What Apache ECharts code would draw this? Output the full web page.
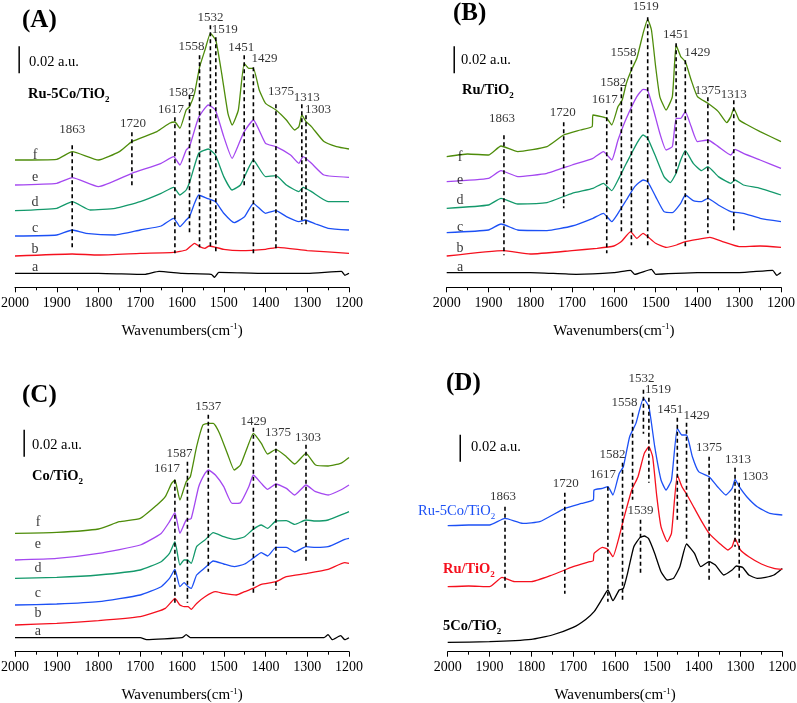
<!DOCTYPE html>
<html><head><meta charset="utf-8">
<script src="https://cdn.jsdelivr.net/npm/echarts@6/dist/echarts.min.js"></script>
<style>html,body{margin:0;padding:0;background:#fff}#c{width:797px;height:703px}</style>
</head><body><div id="c"></div><script>
// ---------- DATA (heights above each panel's baseline, same unit for all panels) ----------
// Panel A: Ru-5Co/TiO2
const A_a = [[2000,14],[1800,14],[1690,13],[1655,16],[1600,14],[1530,13],[1522,10],[1512,15],[1400,14],[1300,14],[1218,16],[1210,12],[1200,14]];
const A_b = [[2000,31.3],[1863,33.3],[1800,32.3],[1700,34],[1620,35],[1590,37.3],[1570,44],[1558,40.7],[1545,39],[1535,41.3],[1500,38],[1460,36.7],[1400,38],[1370,40],[1300,36.7],[1200,34]];
const A_c = [[2000,51.3],[1900,52.3],[1863,57.3],[1830,54],[1760,52.3],[1700,57.3],[1650,61.3],[1620,69],[1605,60.7],[1590,67.3],[1582,70.7],[1570,84],[1560,92.3],[1540,89],[1520,85.7],[1500,74],[1475,64.7],[1450,70.7],[1429,84],[1400,74],[1375,76.7],[1350,70.7],[1320,65.7],[1305,67.3],[1280,63.3],[1250,59],[1200,57.3]];
const A_d = [[2000,76.7],[1900,79],[1863,85.7],[1820,77.3],[1760,79],[1700,85.7],[1650,94],[1620,100],[1605,92.3],[1590,97.3],[1580,107.3],[1560,134],[1537,138.3],[1520,132.3],[1500,110.7],[1480,97.3],[1460,102.3],[1429,127.3],[1400,110.7],[1375,111.7],[1350,102.3],[1320,95.7],[1310,100],[1290,95.7],[1250,85.7],[1200,85.7]];
const A_e = [[2000,102.3],[1900,104],[1863,109.7],[1800,100.7],[1720,114],[1650,124],[1620,130.7],[1605,122.3],[1590,137.3],[1582,140.7],[1560,170],[1537,182.3],[1520,177.3],[1500,150.7],[1480,129],[1460,147.3],[1451,155.7],[1429,167.3],[1400,144],[1375,140.7],[1340,132.3],[1320,124],[1310,130.7],[1290,124],[1260,112.3],[1200,110]];
const A_f = [[2000,127.3],[1900,128],[1863,135.7],[1800,127.3],[1750,135.7],[1720,145.7],[1660,155.7],[1630,164],[1617,165.3],[1605,159],[1590,177.3],[1582,180.7],[1570,194],[1558,220],[1545,237.3],[1532,254],[1519,247],[1505,214],[1490,174],[1480,162.3],[1465,177.3],[1451,224],[1440,219],[1429,219],[1415,197.3],[1400,184],[1375,177.3],[1350,167.3],[1330,157.3],[1320,160.7],[1313,172.3],[1303,165.7],[1290,160.7],[1260,145.7],[1230,140.7],[1200,138.3]];
// Panel B: Ru/TiO2
const B_a = [[2000,14.7],[1800,14.7],[1690,13],[1600,14.7],[1560,17],[1550,13],[1510,18],[1500,13],[1400,14.7],[1300,14.7],[1220,17],[1210,12],[1200,14.7]];
const B_b = [[2000,31.3],[1863,36.7],[1800,33.3],[1700,36.7],[1640,39],[1600,41.3],[1582,45.7],[1560,55.7],[1545,49],[1530,54],[1519,50.7],[1500,44],[1475,40],[1450,42.3],[1429,45.7],[1400,48],[1370,50],[1340,45.7],[1300,40.7],[1250,41.3],[1200,40]];
const B_c = [[2000,54.7],[1900,57.3],[1870,63.3],[1830,57.3],[1760,56.7],[1700,61.3],[1650,69],[1625,74],[1605,65.7],[1590,74],[1570,87.3],[1550,100.7],[1530,107.3],[1519,105.7],[1500,90.7],[1480,75.7],[1460,74.7],[1440,84],[1429,92.3],[1410,86.7],[1390,85.7],[1375,89],[1350,82.3],[1320,75.7],[1290,74],[1250,69],[1200,65.7]];
const B_d = [[2000,79],[1900,82.3],[1870,89],[1830,83.3],[1760,84.7],[1700,94],[1650,99],[1625,104],[1605,96.7],[1590,107.3],[1570,124],[1545,144],[1530,152.3],[1519,149],[1500,130.7],[1480,110.7],[1465,104.7],[1451,114],[1440,127.3],[1429,136.7],[1410,124],[1390,116.7],[1375,120.7],[1350,110.7],[1320,104],[1310,107.3],[1290,102.3],[1250,99],[1200,92.3]];
const B_e = [[2000,105.7],[1900,109],[1870,116.7],[1830,110.7],[1760,114],[1700,122.3],[1650,129],[1625,135.7],[1605,127.3],[1590,147.3],[1570,169],[1545,190.7],[1530,198],[1519,196.7],[1505,177.3],[1490,154],[1475,137.3],[1460,140.7],[1451,169],[1440,169],[1429,175.7],[1415,160.7],[1400,145.7],[1375,147.3],[1350,140.7],[1320,132.3],[1310,138],[1290,134],[1250,127.3],[1200,119]];
const B_f = [[2000,130.7],[1950,133.3],[1900,132.3],[1870,141.3],[1830,135.7],[1760,140.7],[1720,152.3],[1680,157.3],[1652,160.7],[1650,172.3],[1630,170.7],[1617,169],[1605,162.3],[1590,180.7],[1580,187.3],[1570,204],[1558,217.3],[1545,229],[1530,254],[1519,268],[1510,257.3],[1500,220.7],[1490,190.7],[1475,177.3],[1460,190.7],[1451,242.3],[1440,230.7],[1429,225.7],[1415,207.3],[1400,190.7],[1375,184],[1350,175.7],[1330,164.7],[1320,170.7],[1313,179],[1300,167.3],[1280,162.3],[1250,155.7],[1200,145.7]];
// Panel C: Co/TiO2
const C_a = [[2000,14],[1700,14],[1685,12],[1600,14],[1590,17],[1580,14],[1400,14],[1260,14],[1250,17],[1240,12],[1220,16],[1210,12],[1200,14]];
const C_b = [[2000,26.7],[1900,28.3],[1800,31],[1700,35],[1660,40],[1640,43.3],[1625,50],[1617,53.3],[1605,46.7],[1595,45],[1585,45],[1578,42.3],[1565,48.3],[1545,55],[1520,60],[1500,58.3],[1470,56.7],[1450,60],[1430,63.3],[1410,67.3],[1375,70],[1350,75],[1300,78.3],[1250,82.3],[1210,89],[1200,88.3]];
const C_c = [[2000,46.7],[1900,47.7],[1800,50],[1700,56.7],[1650,65],[1630,73.3],[1617,82.3],[1605,65],[1595,69],[1587,65.7],[1578,63.3],[1565,76.7],[1545,84],[1525,90.7],[1500,87.7],[1475,85],[1450,87.7],[1430,93.3],[1410,99],[1395,95.7],[1375,104.3],[1350,104.3],[1330,99.7],[1303,105],[1280,104.3],[1250,105],[1210,112.3],[1200,113.3]];
const C_d = [[2000,73.3],[1900,74.3],[1800,76.7],[1700,81.7],[1650,90],[1630,98.3],[1617,110],[1605,86.7],[1595,91.7],[1587,91.7],[1578,88.3],[1565,105],[1545,111.7],[1525,119],[1500,115],[1475,112.3],[1450,115],[1430,122.3],[1410,126.7],[1395,123.3],[1375,130.7],[1350,131],[1330,127.3],[1303,131.7],[1280,130.7],[1250,131.7],[1210,138.3],[1200,140]];
const C_e = [[2000,91.7],[1900,93.3],[1800,98.3],[1700,106.7],[1650,118.3],[1630,130],[1617,139],[1605,118.3],[1590,131.7],[1578,133.3],[1560,165],[1545,178.3],[1537,181.7],[1520,176.7],[1500,165],[1480,148.3],[1460,149],[1440,165],[1429,176.7],[1410,168.3],[1395,162.3],[1375,167.7],[1350,163.3],[1330,156.7],[1303,166.7],[1280,160],[1250,156.7],[1220,161.7],[1200,166.7]];
const C_f = [[2000,118.3],[1900,119.3],[1800,122.7],[1750,130],[1700,133.3],[1660,146.7],[1640,155],[1625,168.3],[1617,171.7],[1605,151.7],[1590,170],[1580,175],[1565,205],[1550,226.7],[1537,228.3],[1525,228.3],[1510,218.3],[1490,196.7],[1475,181.7],[1460,186.7],[1440,208.3],[1429,218.3],[1410,208.3],[1395,197.7],[1375,202.3],[1350,195],[1330,187.7],[1303,198.3],[1280,186.7],[1250,185.7],[1220,188.3],[1200,194.3]];
// Panel D: comparison
const D_co = [[2000,9.3],[1900,10],[1800,12.3],[1750,16.7],[1700,24.3],[1670,32.3],[1650,40],[1630,53.3],[1617,61.7],[1605,51],[1590,61.7],[1580,63.3],[1570,78.3],[1555,105],[1540,114.3],[1530,115.7],[1520,113.3],[1505,98.3],[1490,80],[1475,71.7],[1460,73.3],[1445,85],[1429,107.7],[1410,98.3],[1395,85],[1375,90],[1360,86.7],[1340,76.7],[1320,81.7],[1310,85.7],[1295,84.3],[1280,76.7],[1260,73.3],[1240,74.3],[1220,76.7],[1200,83.3]];
const D_ru = [[2000,65],[1950,65.7],[1900,65],[1870,74.3],[1840,70],[1800,70],[1750,76.7],[1700,85],[1660,90],[1652,91],[1650,98.3],[1630,104.3],[1617,102.3],[1605,95],[1590,115],[1580,131.7],[1560,161.7],[1545,175],[1530,198.3],[1519,205],[1510,195],[1500,155],[1490,125],[1475,110],[1465,118.3],[1451,176.7],[1440,165],[1429,157.7],[1410,143.3],[1390,128.3],[1375,118.3],[1350,108.3],[1330,101.7],[1320,105],[1313,113.3],[1300,101.7],[1280,95],[1250,87.7],[1220,83.3],[1200,82.3]];
const D_rc = [[2000,126],[1950,126.7],[1900,126.7],[1863,133.3],[1820,128.3],[1780,130],[1720,143.3],[1680,148.3],[1652,151.7],[1650,161.7],[1630,163.3],[1617,165],[1605,156.7],[1590,178.3],[1580,185],[1565,215],[1550,228.3],[1532,253.3],[1519,245],[1505,205],[1490,171.7],[1478,161.7],[1465,171.7],[1451,223.3],[1440,216.7],[1429,216.7],[1415,195],[1400,180],[1375,175],[1355,165],[1335,156.7],[1320,163.3],[1313,172.3],[1303,165],[1285,155],[1260,145],[1230,138.3],[1200,136.7]];

// Peak assignments (cm-1) per panel
const peaksA = [1863,1720,1617,1582,1558,1532,1519,1451,1429,1375,1313,1303];
const peaksB = [1863,1720,1617,1582,1558,1519,1451,1429,1375,1313];
const peaksC = [1617,1587,1537,1429,1375,1303];
const peaksD = [1863,1720,1617,1582,1558,1532,1519,1539,1451,1429,1375,1313,1303];
const curveLetters = ['a','b','c','d','e','f'];
const xTicks = [2000,1900,1800,1700,1600,1500,1400,1300,1200];
const SCALE_BAR = 27; // 0.02 a.u. in height units

// ---------- LAYOUT (annotation placement: [lineTop, lineBottom, labelHeight, labelDx px]) ----------
const peakLayoutA = [[142,39,158,0],[155,100,164,1],[170,34,178,-4],[192,54,195,-8],[232,40,241,-8],[262,40,270,0],[250,34,258,9],[232,100,240,-3],[220,32,229,11],[183,39,196,5],[183,63,190,5],[172,63,178,12]];
const peakLayoutB = [[152,32,169,-2],[165,79,175,-1],[177,34,188,-2],[200,54,205,-8],[227,42,235,-8],[270,39,281,-2],[244,114,253,0],[227,39,235,12],[190,54,197,0],[187,54,193,0]];
const peakLayoutC = [[172,47,183,-8],[190,49,198,-8],[237,80,245,0],[224,57,230,0],[210,62,219,2],[207,90,214,2]];
const peakLayoutD = [[145,63,155,-2],[159,58,168,1],[165,50,177,-5],[189,50,197,-10],[239,152,249,-8],[262,218,273,-2],[254,169,262,9],[132,79,141,0],[234,130,242,-7],[229,112,236,10],[195,69,204,0],[184,105,192,3],[169,72,175,16]];

const COL = {a:'#000000', b:'#f5101e', c:'#1c50f5', d:'#13996b', e:'#a447f0', f:'#4e8c0a'};
const FONT = "'Liberation Serif','Times New Roman',serif";

const panels = [
  {grid:{left:15, right:448, top:0, height:287.3}, ymax:287.3,
   curves:[A_a,A_b,A_c,A_d,A_e,A_f].map((d,i)=>({d, c:COL[curveLetters[i]]})),
   peaks:peaksA, layout:peakLayoutA,
   letters:{wn:1952, h:[20,38,59,85,110,132]}, bar:{wn:1990, h0:214}},
  {grid:{left:446.7, right:16, top:0, height:287.3}, ymax:287.3,
   curves:[B_a,B_b,B_c,B_d,B_e,B_f].map((d,i)=>({d, c:COL[curveLetters[i]]})),
   peaks:peaksB, layout:peakLayoutB,
   letters:{wn:1968, h:[20,39,60,87,107,130]}, bar:{wn:1982, h0:214}},
  {grid:{left:15, right:448, top:351.7, height:300}, ymax:300,
   curves:[C_a,C_b,C_c,C_d,C_e,C_f].map((d,i)=>({d, c:COL[curveLetters[i]]})),
   peaks:peaksC, layout:peakLayoutC,
   letters:{wn:1945, h:[20,38,58,83,107,129]}, bar:{wn:1978, h0:195}},
  {grid:{left:447.7, right:14.7, top:351.7, height:300}, ymax:300,
   curves:[{d:D_co,c:'#000000'},{d:D_ru,c:'#f5101e'},{d:D_rc,c:'#1c50f5'}],
   peaks:peaksD, layout:peakLayoutD, letters:null, bar:{wn:1970, h0:190}}
];

const grids=[], xAxes=[], yAxes=[], series=[];
panels.forEach((p,i)=>{
  grids.push(Object.assign({outerBoundsMode:'none', containLabel:false}, p.grid));
  xAxes.push({gridIndex:i, type:'value', min:1200, max:2000, interval:100, inverse:true,
    axisLine:{lineStyle:{color:'#000', width:1}},
    axisTick:{inside:false, length:5, lineStyle:{color:'#000'}},
    minorTick:{show:true, splitNumber:2, length:3, lineStyle:{color:'#000'}},
    splitLine:{show:false}, minorSplitLine:{show:false},
    axisLabel:{color:'#000', fontSize:14, fontFamily:FONT, margin:9,
      formatter:v=> xTicks.includes(v)? String(v):''},
    name:'{t|Wavenumbers(cm}{s|-1}{t|)}', nameLocation:'middle', nameGap:35,
    nameTextStyle:{rich:{t:{fontSize:15,fontFamily:FONT,color:'#000'}, s:{fontSize:9,fontFamily:FONT,color:'#000',verticalAlign:'top',padding:[0,0,8,0]}}}
  });
  yAxes.push({gridIndex:i, type:'value', min:0, max:p.ymax, show:false});
  p.curves.forEach(cv=>{
    series.push({type:'line', xAxisIndex:i, yAxisIndex:i, data:cv.d, showSymbol:false, symbol:'none', smooth:0.15,
      lineStyle:{color:cv.c, width:1.3}, silent:true, z:3});
  });
  p.peaks.forEach((wn,k)=>{
    const L=p.layout[k];
    series.push({type:'line', xAxisIndex:i, yAxisIndex:i, data:[[wn,L[0]],[wn,L[1]]], showSymbol:false, symbol:'none',
      lineStyle:{color:'#000', width:1.6, type:[4,3]}, silent:true, z:4});
  });
  const lay = p.layout;
  series.push({type:'scatter', xAxisIndex:i, yAxisIndex:i, symbolSize:1, itemStyle:{color:'rgba(0,0,0,0)'}, silent:true, z:5,
    data:p.peaks.map((wn,k)=>[wn,lay[k][2]]),
    label:{show:true, position:'inside', color:'#000', fontSize:13, fontFamily:FONT,
      formatter:q=>String(q.value[0])},
    labelLayout:prm=>({dx:lay[prm.dataIndex][3]})
  });
  if(p.letters){
    series.push({type:'scatter', xAxisIndex:i, yAxisIndex:i, symbolSize:1, itemStyle:{color:'rgba(0,0,0,0)'}, silent:true, z:5,
      data:p.letters.h.map((h,k)=>({value:[p.letters.wn,h], name:curveLetters[k]})),
      label:{show:true, position:'inside', color:'#000', fontSize:14, fontFamily:FONT, formatter:q=>q.name}});
  }
  series.push({type:'line', xAxisIndex:i, yAxisIndex:i, data:[[p.bar.wn,p.bar.h0],[p.bar.wn,p.bar.h0+SCALE_BAR]], showSymbol:false, symbol:'none',
    lineStyle:{color:'#000', width:1.5}, silent:true, z:4});
});

const rB = (c)=>({b:{fontSize:14.5,fontWeight:'bold',fontFamily:FONT,fill:c,color:c}, s:{fontSize:9,fontWeight:'bold',fontFamily:FONT,fill:c,color:c,padding:[10,0,0,0]}});
const rN = (c)=>({b:{fontSize:14.5,fontFamily:FONT,fill:c,color:c}, s:{fontSize:9,fontFamily:FONT,fill:c,color:c,padding:[10,0,0,0]}});
const titleR = {t:{fontSize:25,fontWeight:'bold',fontFamily:FONT,fill:'#000'}};
const auR = {n:{fontSize:14.5,fontFamily:FONT,fill:'#000'}};

const graphic = [
  {type:'text', left:22, top:8, style:{text:'{t|(A)}', rich:titleR}},
  {type:'text', left:453, top:1, style:{text:'{t|(B)}', rich:titleR}},
  {type:'text', left:22, top:383, style:{text:'{t|(C)}', rich:titleR}},
  {type:'text', left:446, top:371, style:{text:'{t|(D)}', rich:titleR}},
  {type:'text', left:29, top:55, style:{text:'{n|0.02 a.u.}', rich:auR}},
  {type:'text', left:461, top:53, style:{text:'{n|0.02 a.u.}', rich:auR}},
  {type:'text', left:32, top:438, style:{text:'{n|0.02 a.u.}', rich:auR}},
  {type:'text', left:471, top:440, style:{text:'{n|0.02 a.u.}', rich:auR}},
  {type:'text', left:28, top:87, style:{text:'{b|Ru-5Co/TiO}{s|2}', rich:rB('#000')}},
  {type:'text', left:462, top:83, style:{text:'{b|Ru/TiO}{s|2}', rich:rB('#000')}},
  {type:'text', left:32, top:469, style:{text:'{b|Co/TiO}{s|2}', rich:rB('#000')}},
  {type:'text', left:418, top:504, style:{text:'{b|Ru-5Co/TiO}{s|2}', rich:rN('#1c50f5')}},
  {type:'text', left:443, top:562, style:{text:'{b|Ru/TiO}{s|2}', rich:rB('#f5101e')}},
  {type:'text', left:443, top:619, style:{text:'{b|5Co/TiO}{s|2}', rich:rB('#000')}}
];

const chart = echarts.init(document.getElementById('c'), null, {renderer:'canvas'});
chart.setOption({animation:false, backgroundColor:'#fff', grid:grids, xAxis:xAxes, yAxis:yAxes, series, graphic});
</script></body></html>
